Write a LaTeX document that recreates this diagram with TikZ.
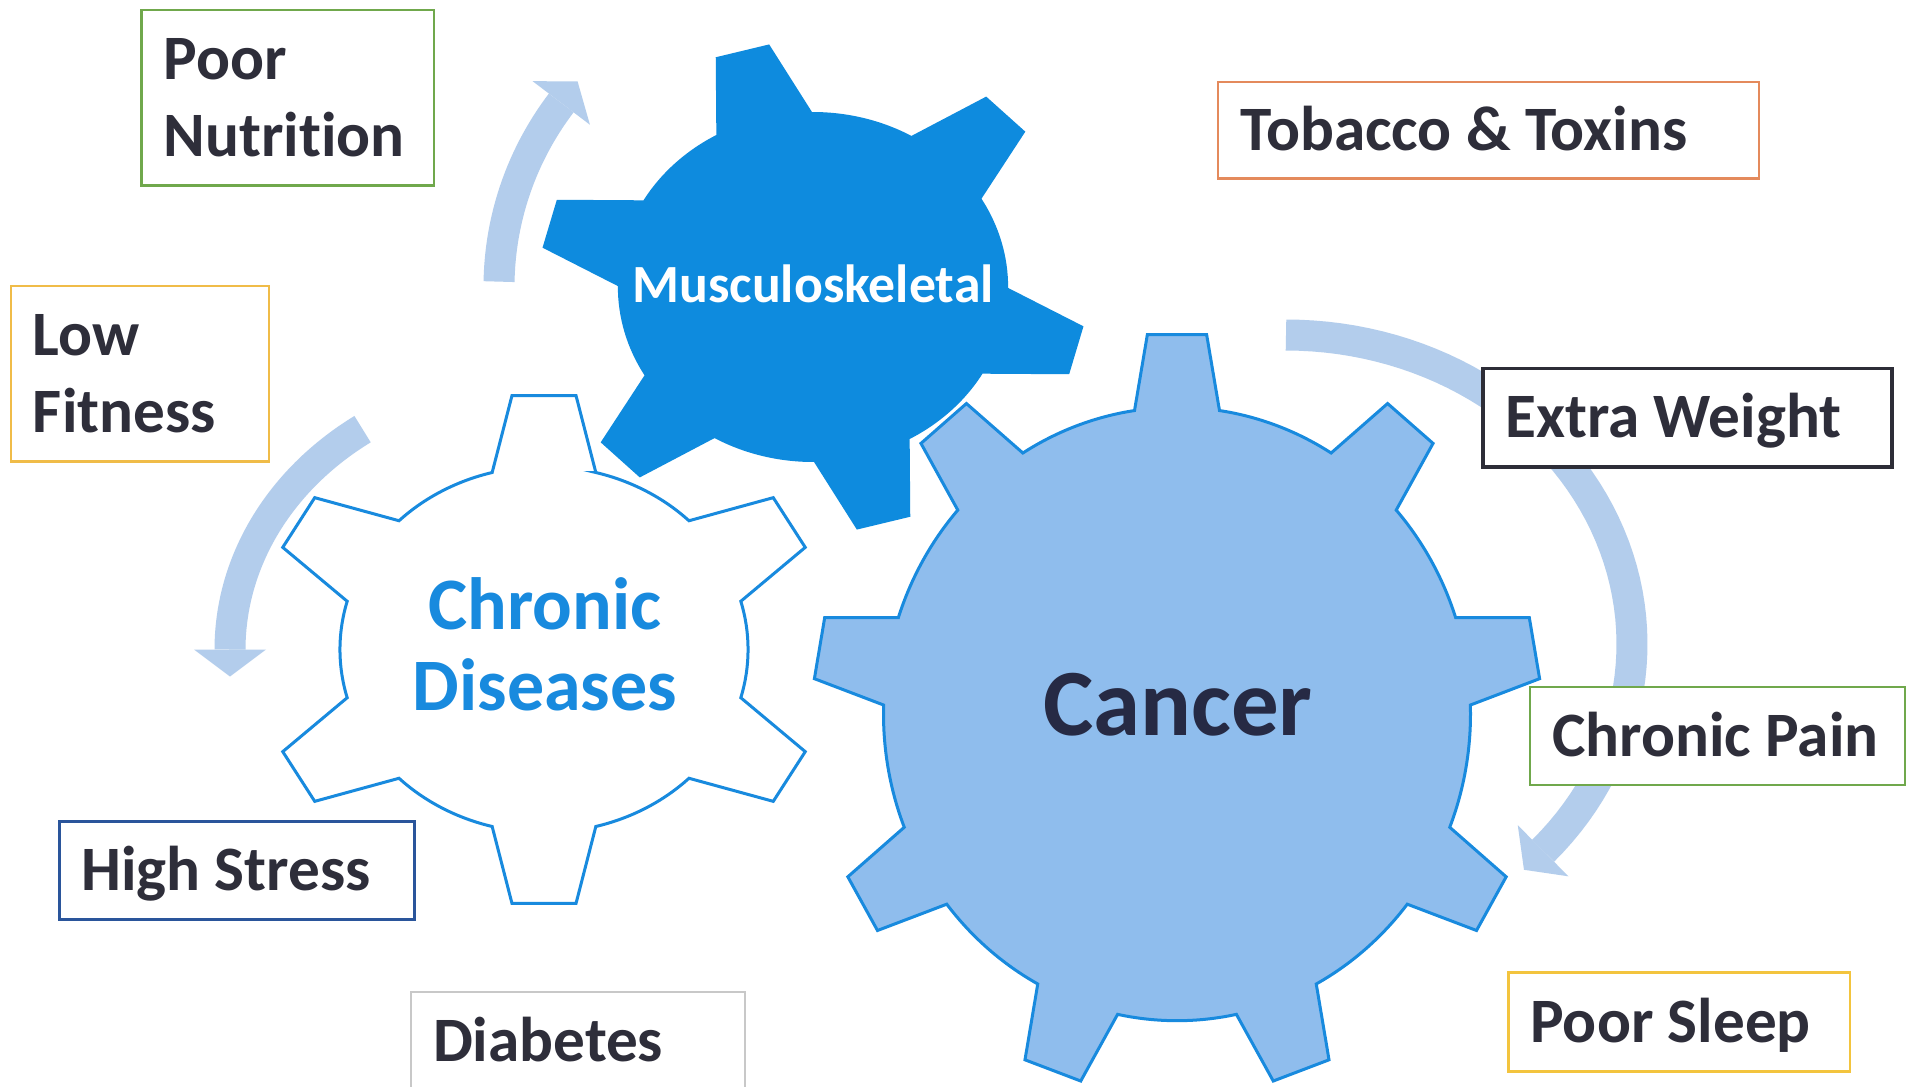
\documentclass[tikz,border=0pt]{standalone}
\usepackage{fontspec}
\setmainfont{Carlito}[Ligatures={NoCommon}]

\definecolor{inkdark}{RGB}{46,46,58}
\definecolor{cancerink}{RGB}{38,42,68}
\definecolor{gearblue}{RGB}{14,139,222}
\definecolor{gearline}{RGB}{24,138,222}
\definecolor{cancerfill}{RGB}{143,189,237}
\definecolor{arrowblue}{RGB}{179,205,236}
\definecolor{boxgreen}{RGB}{112,168,76}
\definecolor{boxorange}{RGB}{228,138,92}
\definecolor{boxgold}{RGB}{240,188,72}
\definecolor{boxsun}{RGB}{243,196,62}
\definecolor{boxdark}{RGB}{45,45,55}
\definecolor{boxnavy}{RGB}{42,85,155}
\definecolor{boxgray}{RGB}{200,200,200}

% Gear outline: #1 style, #2 centre, #3 horizontal stretch, #4 number of teeth,
% #5 angle of first tooth, #6 tip radius, #7 tip half-width,
% #8 base half-width, #9 root radius
\newcommand\drawgear[9]{%
  \pgfmathsetmacro\gStep{360/#4}%
  \pgfmathsetmacro\gTipAng{atan(#7/#6)}%
  \pgfmathsetmacro\gTipRad{100*sqrt((#6/100)^2+(#7/100)^2)}%
  \pgfmathsetmacro\gBaseAng{asin(#8/#9)}%
  \path[#1, shift={#2}, xscale=#3, yscale=-1]
    ({#5-\gBaseAng}:#9)
    \foreach \i in {1,...,#4}{
      -- ({#5+(\i-1)*\gStep-\gTipAng}:\gTipRad)
      -- ({#5+(\i-1)*\gStep+\gTipAng}:\gTipRad)
      -- ({#5+(\i-1)*\gStep+\gBaseAng}:#9)
      arc[start angle={#5+(\i-1)*\gStep+\gBaseAng},
          end angle={#5+\i*\gStep-\gBaseAng}, radius=#9]
    } -- cycle;
}

% Curved arrow along an elliptic arc: centre (#1,#2), radii #3 and #4,
% running from angle #5 to angle #6, head at the #6 end
\newcommand\circarrow[6]{%
  \draw[arrowshaft] plot[domain=#5:#6, samples=60, variable=\t]
    ({#1+#3*cos(\t)},{#2+#4*sin(\t)});
  \pgfmathsetmacro\aBx{#1+#3*cos(#6)}%
  \pgfmathsetmacro\aBy{#2+#4*sin(#6)}%
  \pgfmathsetmacro\aSense{sign(#6-#5)}%
  \pgfmathsetmacro\aTx{-\aSense*#3/100*sin(#6)}%
  \pgfmathsetmacro\aTy{\aSense*#4/100*cos(#6)}%
  \pgfmathsetmacro\aLen{sqrt(\aTx*\aTx+\aTy*\aTy)}%
  \pgfmathsetmacro\aUx{\aTx/\aLen}%
  \pgfmathsetmacro\aUy{\aTy/\aLen}%
  \fill[arrowfill] ({\aBx+36*\aUy},{\aBy-36*\aUx})
    -- ({\aBx+27*\aUx},{\aBy+27*\aUy})
    -- ({\aBx-36*\aUy},{\aBy+36*\aUx}) -- cycle;
}

\newcommand\boxtext[2]{\makebox[#1][l]{#2}}
\newcommand\twolines[2]{\begin{tabular}[b]{@{}l@{}}#1\\#2\end{tabular}}

\begin{document}
\begin{tikzpicture}[x=0.4pt, y=-0.4pt,
  arrowshaft/.style={draw=arrowblue, line width=12.4pt, line cap=butt, line join=round},
  arrowfill/.style={fill=arrowblue},
  label box/.style={draw, fill=white, line width=1pt, inner xsep=8.8pt, inner ysep=0pt,
    font=\fontsize{25.3}{30.6}\selectfont\bfseries, text=inkdark,
    text height=16pt, text depth=0pt, minimum height=39.2pt},
  two line/.style={minimum height=70.3pt, text height=46.6pt},
  gear text/.style={inner sep=0pt, text depth=0pt}]

\useasboundingbox (0,0) rectangle (1914,1087);
\clip (0,0) rectangle (1914,1087);
\fill[white] (0,0) rectangle (1914,1087);

% rotation arrows around the gears
\circarrow{813}{287}{314}{308}{181}{216.7}
\circarrow{544}{649.5}{314}{270}{234.7}{180}
\circarrow{1286}{644}{346}{309}{-90}{42}

% gears
\drawgear{draw=gearline, line width=1.2pt, fill=white}{(544,649.5)}{1.115}{6}{90}{254}{28.7}{46.5}{183}
\drawgear{draw=gearline, line width=1.2pt, fill=cancerfill}{(1177,714)}{0.957}{9}{90}{379.3}{31}{44.4}{306.7}
\drawgear{fill=gearblue}{(813,287)}{1.115}{6}{105}{244.5}{24.8}{44.4}{175}

% gear labels
\node[gear text, text=white, text height=13.6pt,
  font=\fontsize{21.5}{25}\selectfont\bfseries] (musculo) at (813,285.8) {Musculoskeletal};
\node[gear text, text=gearline, text height=51.1pt,
  font=\fontsize{29.6}{32.4}\selectfont\bfseries] (chronic) at (545,646.9)
  {\begin{tabular}[b]{@{}c@{}}Chronic\\Diseases\end{tabular}};
\node[gear text, text=cancerink, text height=24pt,
  font=\fontsize{38}{44}\selectfont\bfseries] (cancer) at (1178,705.3) {Cancer};

% risk factor boxes
\node[label box, two line, draw=boxgreen] (nutrition) at (287.9,97.85)
  {\boxtext{99.4pt}{\twolines{Poor}{Nutrition}}};
\node[label box, two line, draw=boxgold] (fitness) at (140,373.85)
  {\boxtext{85.6pt}{\twolines{Low}{Fitness}}};
\node[label box, draw=boxorange, minimum height=38.6pt] (tobacco) at (1488.7,130)
  {\boxtext{198.8pt}{Tobacco \& Toxins}};
\node[label box, draw=boxdark, line width=1.4pt, minimum height=39.4pt] (weight) at (1687.7,417.5)
  {\boxtext{146pt}{Extra Weight}};
\node[label box, draw=boxgreen] (pain) at (1717.5,736)
  {\boxtext{132.4pt}{Chronic Pain}};
\node[label box, draw=boxsun, minimum height=39.6pt] (sleep) at (1679.2,1022)
  {\boxtext{119.1pt}{Poor Sleep}};
\node[label box, draw=boxnavy, line width=1.2pt, minimum height=39.1pt] (stress) at (236.8,870.4)
  {\boxtext{124.5pt}{High Stress}};
\node[label box, draw=boxgray, minimum height=39.6pt] (diabetes) at (578,1041.5)
  {\boxtext{116pt}{Diabetes}};
\end{tikzpicture}
\end{document}
